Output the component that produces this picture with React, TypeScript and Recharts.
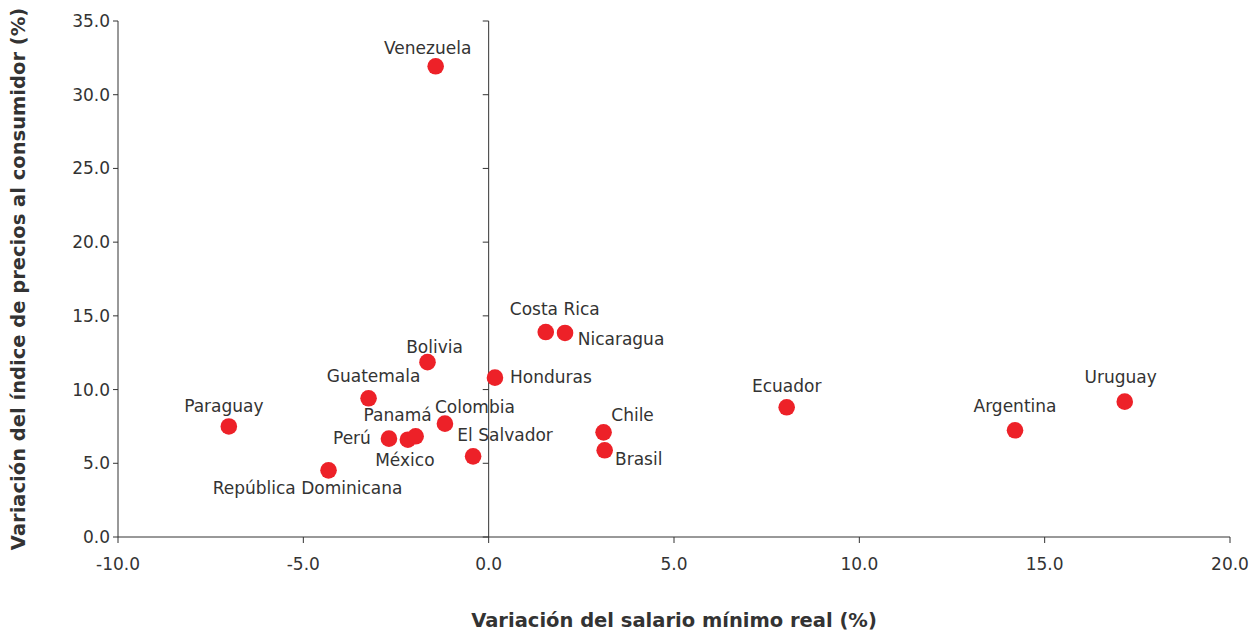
import { ScatterChart, Scatter, XAxis, YAxis, ReferenceLine } from "recharts";

const countries = [
  "Venezuela", "Paraguay", "República Dominicana", "Guatemala", "Bolivia", "Perú",
  "México", "Panamá", "Colombia", "El Salvador", "Honduras", "Costa Rica",
  "Nicaragua", "Chile", "Brasil", "Ecuador", "Argentina", "Uruguay",
];
const salarioReal = [
  -1.43, -7.01, -4.32, -3.24, -1.65, -2.69, -2.18, -1.97, -1.18, -0.42, 0.17, 1.54,
  2.06, 3.1, 3.13, 8.04, 14.2, 17.16,
];
const ipc = [
  31.93, 7.5, 4.52, 9.41, 11.86, 6.67, 6.6, 6.83, 7.69, 5.47, 10.81, 13.9,
  13.84, 7.1, 5.88, 8.8, 7.24, 9.18,
];
const xTicks = [-10, -5, 0, 5, 10, 15, 20];
const yTicks = [0, 5, 10, 15, 20, 25, 30, 35];

// label offsets from the dot centre (px), text anchored in the middle
const labelPos: Record<string, [number, number]> = {
  Venezuela: [-8, -18],
  Paraguay: [-5, -20],
  "República Dominicana": [-21, 18],
  Guatemala: [5, -22],
  Bolivia: [7, -15],
  "Perú": [-37, -1],
  "México": [-3, 20],
  "Panamá": [-18, -21],
  Colombia: [30, -17],
  "El Salvador": [32, -21],
  Honduras: [56, -1],
  "Costa Rica": [9, -23],
  Nicaragua: [56, 6],
  Chile: [29, -17],
  Brasil: [34, 9],
  Ecuador: [0, -21],
  Argentina: [0, -24],
  Uruguay: [-4, -25],
};

const data = countries.map((name, i) => ({ name, x: salarioReal[i], y: ipc[i] }));

const FONT = "Verdana, 'DejaVu Sans', sans-serif";
const TXT = "#333333";
const DOT = "#ED2128";

function Dot(props: any) {
  const { cx, cy, payload } = props;
  const [dx, dy] = labelPos[payload.name] || [0, -20];
  return (
    <g>
      <circle cx={cx} cy={cy} r={8.3} fill={DOT} />
      <text
        x={cx + dx}
        y={cy + dy}
        textAnchor="middle"
        dominantBaseline="central"
        fontSize={17}
        fontFamily={FONT}
        fill={TXT}
      >
        {payload.name}
      </text>
    </g>
  );
}

export default function App() {
  return (
    <div style={{ position: "absolute", left: 0, top: 0, width: 1258, height: 633, background: "#fff" }}>
      <ScatterChart width={1258} height={633} margin={{ top: 21, right: 28, bottom: 0, left: 0 }}>
        <XAxis
          type="number"
          dataKey="x"
          domain={[-10, 20]}
          ticks={xTicks}
          tickFormatter={(v: number) => v.toFixed(1)}
          height={96}
          tickSize={6}
          tickMargin={15}
          stroke={TXT}
          tick={{ fontSize: 17, fontFamily: FONT, fill: TXT }}
          label={{
            value: "Variación del salario mínimo real (%)",
            position: "insideBottom",
            offset: 6,
            style: { fontSize: 19.5, fontWeight: "bold", fontFamily: FONT, fill: TXT },
          }}
        />
        <YAxis
          type="number"
          dataKey="y"
          domain={[0, 35]}
          ticks={yTicks}
          tickFormatter={(v: number) => v.toFixed(1)}
          width={118}
          tickSize={5}
          tickMargin={3}
          stroke={TXT}
          tick={{ fontSize: 17, fontFamily: FONT, fill: TXT }}
          label={{
            value: "Variación del índice de precios al consumidor (%)",
            angle: -90,
            position: "insideLeft",
            offset: 18,
            style: { textAnchor: "middle", fontSize: 19.5, fontWeight: "bold", fontFamily: FONT, fill: TXT },
          }}
        />
        <ReferenceLine x={0} stroke={TXT} strokeWidth={1} />
        {yTicks.map((t) => (
          <ReferenceLine
            key={t}
            segment={[{ x: -0.16, y: t }, { x: 0, y: t }]}
            stroke={TXT}
            strokeWidth={1}
          />
        ))}
        <Scatter data={data} shape={Dot} isAnimationActive={false} />
      </ScatterChart>
    </div>
  );
}
